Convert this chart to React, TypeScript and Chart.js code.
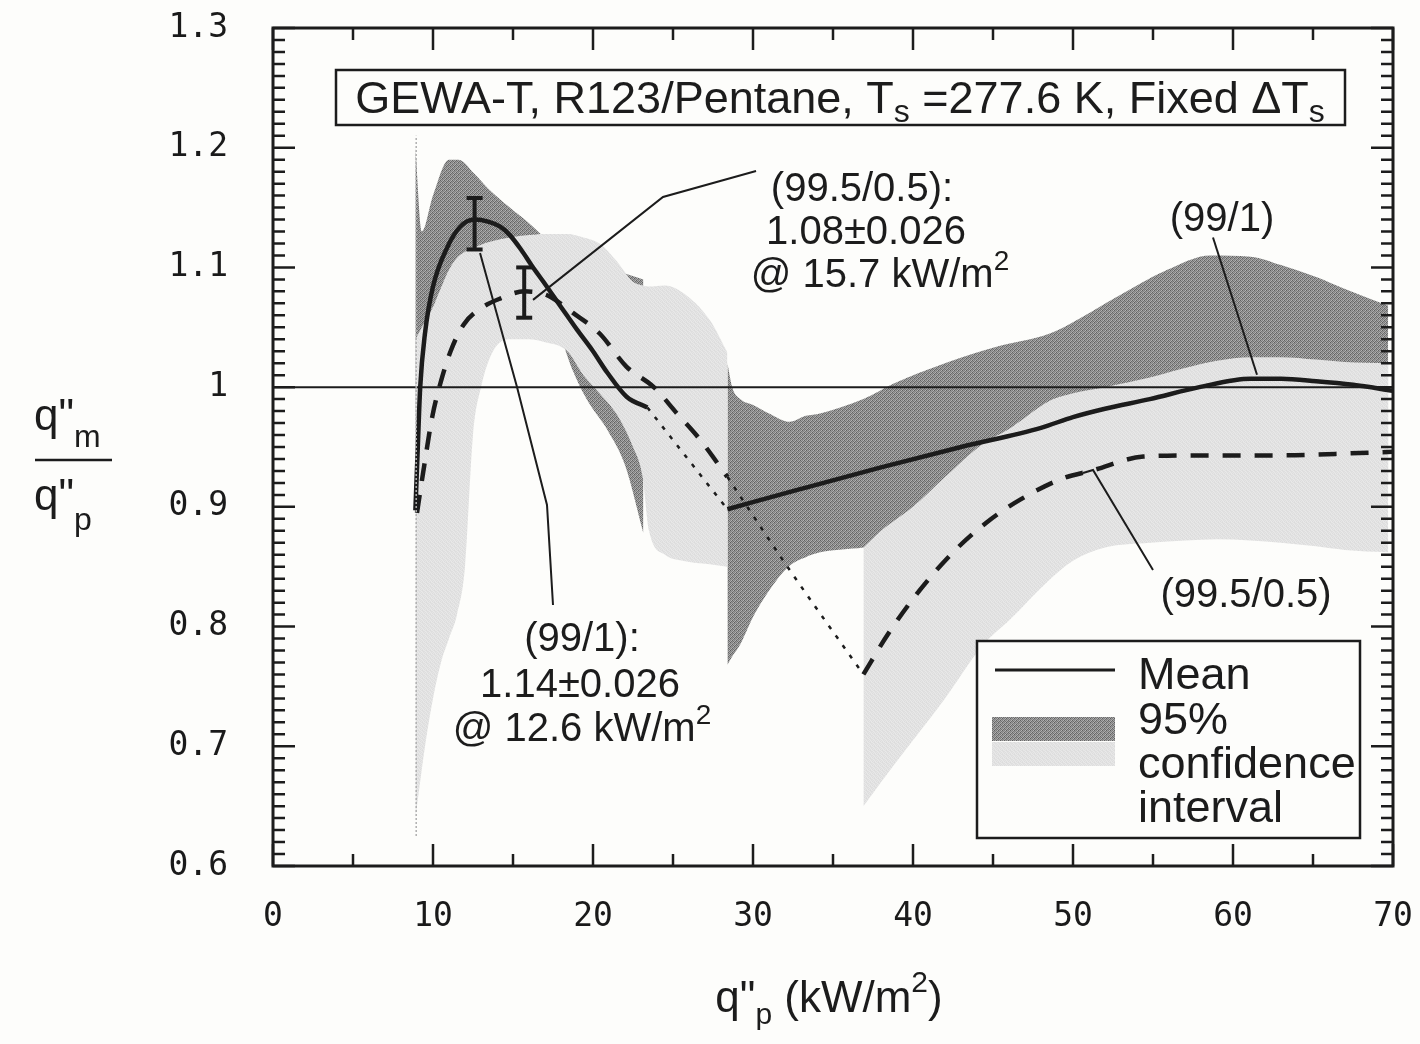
import React, { useEffect, useRef } from "react";
import { Chart, registerables } from "chart.js";

Chart.register(...registerables);

// ---------- axis ticks ----------
const xTickValues = [0, 10, 20, 30, 40, 50, 60, 70];
const xTickLabels = ["0", "10", "20", "30", "40", "50", "60", "70"];
const yTickValues = [0.6, 0.7, 0.8, 0.9, 1.0, 1.1, 1.2, 1.3];
const yTickLabels = ["0.6", "0.7", "0.8", "0.9", "1", "1.1", "1.2", "1.3"];

// ---------- (99/1) mean, solid ----------
const mean991X1 = [8.9, 9.05, 9.2, 9.5, 10, 10.9, 11.7, 12.6, 13.5, 14.2, 14.8, 15.5, 16.2, 16.9, 18, 19, 20, 20.9, 22.1, 23.4];
const mean991Y1 = [0.897, 0.95, 1.0, 1.045, 1.084, 1.117, 1.134, 1.14, 1.138, 1.134, 1.127, 1.115, 1.101, 1.088, 1.067, 1.048, 1.03, 1.012, 0.992, 0.983];
const mean991X2 = [28.4, 33, 38, 43, 48, 50, 52, 54.8, 57.9, 61.1, 63, 65.2, 67.5, 70];
const mean991Y2 = [0.898, 0.915, 0.933, 0.95, 0.966, 0.975, 0.982, 0.99, 1.0, 1.007, 1.007, 1.005, 1.002, 0.997];
const mean991GapX = [23.4, 28.4];
const mean991GapY = [0.983, 0.898];

// ---------- (99.5/0.5) mean, dashed ----------
const mean995X1 = [9.0, 9.4, 9.95, 10.5, 11.1, 11.9, 12.9, 14.2, 15.7, 17.1, 18.75, 20.4, 22.1, 23.8, 25.25, 26.7, 28.4];
const mean995Y1 = [0.895, 0.93, 0.975, 1.005, 1.03, 1.052, 1.065, 1.074, 1.08, 1.077, 1.062, 1.045, 1.017, 1.0, 0.978, 0.956, 0.925];
const mean995X2 = [36.9, 38.4, 40.4, 42.5, 44.6, 46.7, 49.4, 51.1, 54.4, 57.9, 63.1, 67.9, 70];
const mean995Y2 = [0.76, 0.793, 0.83, 0.862, 0.887, 0.906, 0.924, 0.93, 0.942, 0.943, 0.943, 0.945, 0.946];
const mean995GapX = [28.4, 32.1, 36.9];
const mean995GapY = [0.925, 0.851, 0.76];

// ---------- (99/1) 95% confidence band (dark) ----------
const ci991X1 = [8.9, 9.3, 10, 11, 11.6, 12.6, 13.5, 14.8, 16, 17, 18, 18.7, 19.6, 21, 22, 23.15];
const ci991Hi1 = [1.2, 1.13, 1.16, 1.19, 1.19, 1.178, 1.165, 1.15, 1.137, 1.125, 1.115, 1.11, 1.105, 1.1, 1.095, 1.09];
const ci991Lo1 = [0.95, 1.0, 1.06, 1.095, 1.108, 1.114, 1.11, 1.095, 1.075, 1.058, 1.04, 1.015, 0.99, 0.962, 0.935, 0.878];
const ci991X2 = [28.4, 28.7, 29.2, 30, 31, 32.3, 33.3, 34.2, 36.9, 38.8, 42, 45, 48.6, 50.5, 52.7, 55.9, 58.6, 61.1, 63, 65.2, 67, 69.7];
const ci991Hi2 = [1.02, 1.0, 0.99, 0.985, 0.978, 0.971, 0.976, 0.978, 0.99, 1.003, 1.02, 1.033, 1.045, 1.058, 1.075, 1.098, 1.11, 1.109, 1.102, 1.092, 1.082, 1.068];
const ci991Lo2 = [0.768, 0.775, 0.785, 0.808, 0.83, 0.851, 0.858, 0.862, 0.866, 0.87, 0.88, 0.89, 0.9, 0.905, 0.91, 0.915, 0.92, 0.92, 0.92, 0.92, 0.92, 0.92];

// ---------- (99.5/0.5) 95% confidence band (light) ----------
const ci995X1 = [8.9, 9.5, 10, 10.5, 11, 11.5, 12, 12.5, 13, 13.75, 14.8, 16, 16.9, 18.4, 19.4, 20.4, 21.5, 22.5, 23.1, 23.5, 24.5, 25.6, 27.3, 28.4];
const ci995Hi1 = [1.04, 1.055, 1.067, 1.083, 1.098, 1.108, 1.113, 1.116, 1.119, 1.122, 1.125, 1.127, 1.128, 1.128, 1.125, 1.12, 1.105, 1.088, 1.085, 1.084, 1.085, 1.079, 1.056, 1.029];
const ci995Lo1 = [0.64, 0.7, 0.74, 0.77, 0.79, 0.81, 0.85, 0.96, 1.0, 1.03, 1.04, 1.04, 1.038, 1.03, 1.01, 0.995, 0.977, 0.95, 0.925, 0.88, 0.86, 0.855, 0.852, 0.85];
const ci995X2 = [36.9, 38, 40, 42, 44.4, 46, 48.6, 50, 52, 54.8, 57, 59, 61.1, 63, 65.2, 67, 69.7];
const ci995Hi2 = [0.866, 0.88, 0.9, 0.925, 0.953, 0.965, 0.989, 0.995, 1.0, 1.008, 1.016, 1.022, 1.025, 1.025, 1.023, 1.021, 1.02];
const ci995Lo2 = [0.65, 0.67, 0.705, 0.74, 0.785, 0.805, 0.84, 0.855, 0.866, 0.87, 0.872, 0.873, 0.872, 0.87, 0.867, 0.864, 0.862];

// thin edge line at the start of the bands
const bandEdgeX = [8.95, 8.95];
const bandEdgeY = [0.625, 1.21];

// reference line q"m/q"p = 1
const unityX = [0, 70];
const unityY = [1, 1];

// error bars at the peaks
const errX = [12.6, 15.7];
const errLo = [1.115, 1.058];
const errHi = [1.158, 1.1];

// leader lines (data coordinates)
const leaderTop995 = [[30.19, 1.1806], [24.375, 1.1589], [16.25, 1.0729]];
const leaderBottom991 = [[17.5, 0.818], [17.125, 0.9016], [15.25, 1.0002], [12.94, 1.112]];
const leaderRight991 = [[58.75, 1.125], [61.5, 1.0103]];
const leaderRight995 = [[55, 0.8473], [51.25, 0.9308], [50.625, 0.9283]];

const FONT = '"Liberation Sans", Arial, Helvetica, sans-serif';
const INK = "#1c1c1c";
const BG = "#fdfdfb";

const DARK_CELLS = [
  [98, 165, 128, 178],
  [152, 112, 172, 108],
  [122, 182, 94, 158],
  [168, 118, 148, 132],
];
const LIGHT_CELLS = [
  [228, 222, 232, 224],
  [220, 230, 223, 233],
  [231, 225, 219, 229],
  [223, 233, 227, 221],
];

function pts(xs: number[], ys: number[]) {
  return xs.map((x, i) => ({ x, y: ys[i] }));
}

function makePattern(ctx: CanvasRenderingContext2D, cells: number[][]) {
  const n = cells.length;
  const c = document.createElement("canvas");
  c.width = n;
  c.height = n;
  const g = c.getContext("2d")!;
  for (let r = 0; r < n; r++)
    for (let k = 0; k < n; k++) {
      const v = cells[r][k];
      g.fillStyle = `rgb(${v},${v},${v})`;
      g.fillRect(k, r, 1, 1);
    }
  return ctx.createPattern(c, "repeat") as CanvasPattern;
}

type Run = { t: string; size: number; dy?: number };

function drawRuns(ctx: CanvasRenderingContext2D, runs: Run[], cx: number, baseline: number, align: "center" | "left" = "center") {
  let total = 0;
  for (const r of runs) {
    ctx.font = `${r.size}px ${FONT}`;
    total += ctx.measureText(r.t).width;
  }
  let x = align === "center" ? cx - total / 2 : cx;
  ctx.textAlign = "left";
  ctx.textBaseline = "alphabetic";
  for (const r of runs) {
    ctx.font = `${r.size}px ${FONT}`;
    ctx.fillText(r.t, x, baseline + (r.dy || 0));
    x += ctx.measureText(r.t).width;
  }
}

export default function App() {
  const ref = useRef<HTMLCanvasElement>(null);

  useEffect(() => {
    const canvas = ref.current!;
    const ctx0 = canvas.getContext("2d")!;
    const darkPat = makePattern(ctx0, DARK_CELLS);
    const lightPat = makePattern(ctx0, LIGHT_CELLS);

    const band = (xs: number[], hi: number[], lo: number[], color: any, order: number) => [
      {
        data: pts(xs, hi),
        fill: "+1",
        backgroundColor: color,
        borderColor: "rgba(0,0,0,0)",
        borderWidth: 0,
        pointRadius: 0,
        cubicInterpolationMode: "monotone",
        order,
      },
      {
        data: pts(xs, lo),
        fill: false,
        borderColor: "rgba(0,0,0,0)",
        borderWidth: 0,
        pointRadius: 0,
        cubicInterpolationMode: "monotone",
        order,
      },
    ];

    const line = (xs: number[], ys: number[], width: number, dash: number[], color = INK) => ({
      data: pts(xs, ys),
      fill: false,
      borderColor: color,
      borderWidth: width,
      borderDash: dash,
      borderCapStyle: "butt",
      pointRadius: 0,
      cubicInterpolationMode: "monotone",
      order: 1,
    });

    const errBar = (i: number) => ({
      data: [
        { x: errX[i], y: errLo[i] },
        { x: errX[i], y: errHi[i] },
      ],
      fill: false,
      borderColor: INK,
      borderWidth: 4,
      pointStyle: "line",
      pointRadius: 8,
      pointBorderWidth: 4,
      pointBorderColor: INK,
      pointBackgroundColor: INK,
      tension: 0,
      order: 1,
    });

    const datasets: any[] = [
      ...band(ci991X1, ci991Hi1, ci991Lo1, darkPat, 3),
      ...band(ci991X2, ci991Hi2, ci991Lo2, darkPat, 3),
      ...band(ci995X1, ci995Hi1, ci995Lo1, lightPat, 2),
      ...band(ci995X2, ci995Hi2, ci995Lo2, lightPat, 2),
      { ...line(bandEdgeX, bandEdgeY, 1.5, [2, 2], "#b0b0b0"), cubicInterpolationMode: "default", tension: 0 },
      { ...line(unityX, unityY, 2, []), cubicInterpolationMode: "default", tension: 0 },
      line(mean991X1, mean991Y1, 4.5, []),
      line(mean991X2, mean991Y2, 4.5, []),
      line(mean991GapX, mean991GapY, 2.5, [4, 8]),
      line(mean995X1, mean995Y1, 4.5, [18, 14]),
      line(mean995X2, mean995Y2, 4.5, [18, 14]),
      line(mean995GapX, mean995GapY, 2.5, [4, 8]),
      errBar(0),
      errBar(1),
    ];

    const bgPlugin = {
      id: "bg",
      beforeDraw(chart: any) {
        const c = chart.ctx;
        c.save();
        c.fillStyle = BG;
        c.fillRect(0, 0, chart.width, chart.height);
        c.restore();
      },
    };

    const decoPlugin = {
      id: "deco",
      afterDraw(chart: any) {
        const c: CanvasRenderingContext2D = chart.ctx;
        const xs = chart.scales.x;
        const ys = chart.scales.y;
        const { left, right, top, bottom } = chart.chartArea;
        const P = (x: number, y: number) => [xs.getPixelForValue(x), ys.getPixelForValue(y)];
        c.save();
        c.strokeStyle = INK;
        c.fillStyle = INK;
        c.lineCap = "butt";

        // inward ticks
        c.lineWidth = 2.5;
        c.beginPath();
        for (let i = 0; i <= 70; i++) {
          const v = 0.6 + i * 0.01;
          const p = ys.getPixelForValue(v);
          const len = i % 10 === 0 ? 22 : 12;
          c.moveTo(left, p);
          c.lineTo(left + len, p);
          c.moveTo(right, p);
          c.lineTo(right - len, p);
        }
        for (let v = 0; v <= 70; v += 5) {
          const p = xs.getPixelForValue(v);
          const len = v % 10 === 0 ? 22 : 12;
          c.moveTo(p, bottom);
          c.lineTo(p, bottom - len);
          c.moveTo(p, top);
          c.lineTo(p, top + len);
        }
        c.stroke();

        // frame
        c.lineWidth = 3;
        c.strokeRect(left, top, right - left, bottom - top);

        // leader lines
        c.lineWidth = 2;
        for (const L of [leaderTop995, leaderBottom991, leaderRight991, leaderRight995]) {
          c.beginPath();
          L.forEach(([x, y], i) => {
            const [px, py] = P(x, y);
            if (i === 0) c.moveTo(px, py);
            else c.lineTo(px, py);
          });
          c.stroke();
        }

        // title box
        c.fillStyle = BG;
        c.fillRect(336, 70, 1009, 55);
        c.lineWidth = 2.5;
        c.strokeRect(336, 70, 1009, 55);
        c.fillStyle = INK;
        drawRuns(
          c,
          [
            { t: "GEWA-T, R123/Pentane, T", size: 45 },
            { t: "s", size: 32, dy: 9 },
            { t: " =277.6 K, Fixed \u0394T", size: 45 },
            { t: "s", size: 32, dy: 9 },
          ],
          840,
          113
        );

        // annotations
        drawRuns(c, [{ t: "(99.5/0.5):", size: 40 }], 862, 201);
        drawRuns(c, [{ t: "1.08\u00b10.026", size: 40 }], 866, 244);
        drawRuns(c, [{ t: "@ 15.7 kW/m", size: 40 }, { t: "2", size: 28, dy: -17 }], 880, 287);

        drawRuns(c, [{ t: "(99/1):", size: 40 }], 582, 651);
        drawRuns(c, [{ t: "1.14\u00b10.026", size: 40 }], 580, 697);
        drawRuns(c, [{ t: "@ 12.6 kW/m", size: 40 }, { t: "2", size: 28, dy: -17 }], 582, 741);

        drawRuns(c, [{ t: "(99/1)", size: 40 }], 1222, 231);
        drawRuns(c, [{ t: "(99.5/0.5)", size: 40 }], 1246, 607);

        // legend
        c.fillStyle = BG;
        c.fillRect(977, 641, 383, 197);
        c.lineWidth = 2.5;
        c.strokeRect(977, 641, 383, 197);
        c.lineWidth = 3;
        c.beginPath();
        c.moveTo(995, 670);
        c.lineTo(1115, 670);
        c.stroke();
        c.fillStyle = darkPat;
        c.fillRect(992, 717, 123, 24);
        c.fillStyle = lightPat;
        c.fillRect(992, 742, 123, 24);
        c.fillStyle = INK;
        drawRuns(c, [{ t: "Mean", size: 45 }], 1138, 689, "left");
        drawRuns(c, [{ t: "95%", size: 45 }], 1138, 734, "left");
        drawRuns(c, [{ t: "confidence", size: 45 }], 1138, 778, "left");
        drawRuns(c, [{ t: "interval", size: 45 }], 1138, 822, "left");

        // x axis title
        drawRuns(
          c,
          [
            { t: "q", size: 44 },
            { t: "\"", size: 44 },
            { t: "p", size: 30, dy: 12 },
            { t: " (kW/m", size: 44 },
            { t: "2", size: 30, dy: -20 },
            { t: ")", size: 44 },
          ],
          829,
          1012
        );

        // y axis title (fraction)
        drawRuns(c, [{ t: "q", size: 44 }, { t: "\"", size: 44 }, { t: "m", size: 32, dy: 17 }], 34, 430, "left");
        c.lineWidth = 2.5;
        c.beginPath();
        c.moveTo(35, 460);
        c.lineTo(112, 460);
        c.stroke();
        drawRuns(c, [{ t: "q", size: 44 }, { t: "\"", size: 44 }, { t: "p", size: 32, dy: 20 }], 34, 510, "left");

        c.restore();
      },
    };

    const tickFont = { family: '"DejaVu Sans Mono", monospace', size: 33 };

    const chart = new Chart(canvas, {
      type: "line",
      data: { datasets },
      options: {
        responsive: false,
        animation: false,
        devicePixelRatio: 1,
        layout: { padding: { top: 28, right: 27, left: 0, bottom: 0 } },
        plugins: {
          legend: { display: false },
          tooltip: { enabled: false },
        },
        scales: {
          x: {
            type: "linear",
            min: 0,
            max: 70,
            grid: { display: false, drawTicks: false },
            border: { display: false },
            afterBuildTicks: (s: any) => {
              s.ticks = xTickValues.map((v) => ({ value: v }));
            },
            ticks: {
              padding: 32,
              font: tickFont,
              color: "#1a1a1a",
              maxRotation: 0,
              autoSkip: false,
              callback: (v: any) => {
                const i = xTickValues.findIndex((t) => Math.abs(t - v) < 1e-6);
                return i >= 0 ? xTickLabels[i] : "";
              },
            },
            afterFit: (s: any) => {
              s.height = 178;
              s.paddingLeft = 0;
              s.paddingRight = 0;
              s.paddingTop = 0;
              s.paddingBottom = 0;
            },
          },
          y: {
            type: "linear",
            min: 0.6,
            max: 1.3,
            grid: { display: false, drawTicks: false },
            border: { display: false },
            afterBuildTicks: (s: any) => {
              s.ticks = yTickValues.map((v) => ({ value: v }));
            },
            ticks: {
              padding: 45,
              font: tickFont,
              color: "#1a1a1a",
              autoSkip: false,
              callback: (v: any) => {
                const i = yTickValues.findIndex((t) => Math.abs(t - v) < 1e-6);
                return i >= 0 ? yTickLabels[i] : "";
              },
            },
            afterFit: (s: any) => {
              s.width = 273;
              s.paddingLeft = 0;
              s.paddingRight = 0;
              s.paddingTop = 0;
              s.paddingBottom = 0;
            },
          },
        },
      } as any,
      plugins: [bgPlugin, decoPlugin],
    });

    return () => chart.destroy();
  }, []);

  return (
    <div style={{ position: "fixed", left: 0, top: 0, width: 1420, height: 1044, background: BG }}>
      <canvas ref={ref} width={1420} height={1044} style={{ display: "block" }} />
    </div>
  );
}
